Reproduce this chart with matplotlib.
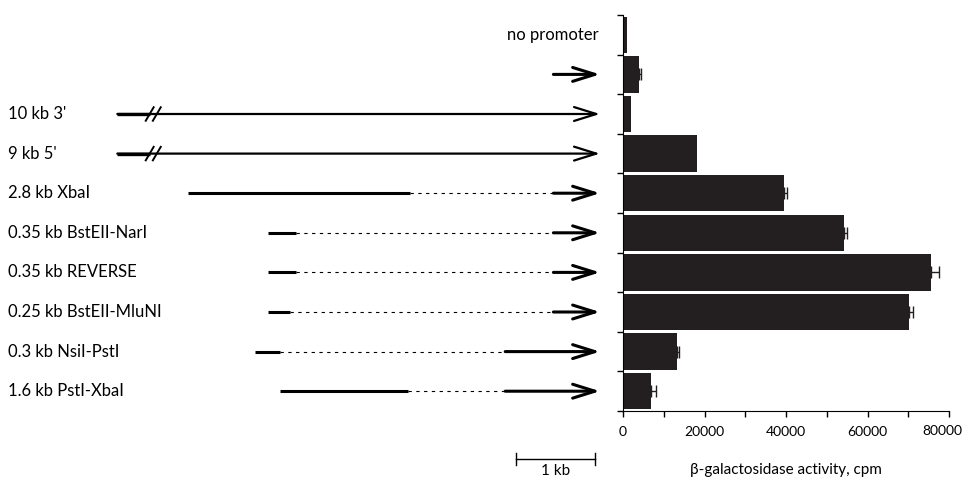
import numpy as np
import matplotlib.pyplot as plt
from matplotlib.ticker import MultipleLocator

plt.rcParams['font.family'] = ['Lato', 'DejaVu Sans']

# constructs, top to bottom
labels = ['no promoter', '', "10 kb 3'", "9 kb 5'", '2.8 kb XbaI',
          '0.35 kb BstEII-NarI', '0.35 kb REVERSE', '0.25 kb BstEII-MluNI',
          '0.3 kb NsiI-PstI', '1.6 kb PstI-XbaI']
activity = [1100, 3900, 2000, 18200, 39600, 54200, 75600, 70300, 13300, 6900]
activity_err = [0, 400, 0, 0, 750, 700, 1900, 800, 400, 1200]
xticks = [0, 20000, 40000, 60000, 80000]

# construct maps in kb, reporter start (arrow tip) at 0
nan = np.nan
solid_start = [nan, nan, nan, nan, -5.21, -4.20, -4.20, -4.20, -4.37, -4.05]
solid_end = [nan, nan, nan, nan, -2.41, -3.85, -3.85, -3.92, -4.05, -2.43]
stem_start = [nan, -0.59, -6.11, -6.11, -0.59, -0.59, -0.59, -0.59, -1.20, -1.20]
has_break = [False, False, True, True, False, False, False, False, False, False]
break_pos = -5.70

W, H = 964, 480
fig = plt.figure(figsize=(W / 100, H / 100), dpi=100)

# bar panel geometry (pixels)
bx0, bx1, by0, by1 = 623, 949, 15, 411
band = (by1 - by0) / len(labels)
ax = fig.add_axes([bx0 / W, 1 - by1 / H, (bx1 - bx0) / W, (by1 - by0) / H])

y = np.arange(len(labels))
ax.barh(y, activity, height=0.92, color='#231f20', zorder=2)
e = np.array(activity_err)
m = e > 0
ax.errorbar(np.array(activity)[m], y[m], xerr=[np.zeros(m.sum()), e[m]],
            fmt='none', ecolor='#231f20', elinewidth=1, capsize=4,
            capthick=1, zorder=3)
ax.set_xlim(0, 80000)
ax.set_ylim(len(labels) - 0.5, -0.5)
ax.set_yticks(np.arange(len(labels) + 1) - 0.5)
ax.set_yticklabels([])
ax.set_xticks(xticks, [str(t) for t in xticks[:-1]] + [''])
ax.xaxis.set_minor_locator(MultipleLocator(10000))
ax.tick_params(axis='both', which='both', direction='out', length=4, width=1)
ax.tick_params(axis='x', labelsize=10, pad=7)
# last label nudged left so it stays on the page
ax.annotate(str(xticks[-1]), xy=(xticks[-1], 0), xycoords=('data', 'axes fraction'),
            xytext=(-4.5, -10), textcoords='offset points', ha='center', va='top',
            fontsize=10)
for s in ['top', 'right']:
    ax.spines[s].set_visible(False)
ax.set_xlabel('\u03b2-galactosidase activity, cpm', fontsize=11, labelpad=18)

# left panel: construct diagrams
px_per_kb = 79
tip_px = 600
lx1 = 615
axl = fig.add_axes([0, 0, lx1 / W, 1])
axl.set_xlim(-tip_px / px_per_kb, (lx1 - tip_px) / px_per_kb)
ytop = -0.5 - by0 / band
ybot = len(labels) - 0.5 + (H - by1) / band
axl.set_ylim(ybot, ytop)
axl.axis('off')

head = '->,head_length=0.8,head_width=0.25'
label_x = (8 - tip_px) / px_per_kb
for i, lab in enumerate(labels):
    if i == 0:
        axl.text(-0.02, i, lab, ha='right', va='center', fontsize=12)
        continue
    axl.text(label_x, i, lab, ha='left', va='center', fontsize=12)
    if not np.isnan(solid_start[i]):
        axl.plot([solid_start[i], solid_end[i]], [i, i], color='k', lw=2.2,
                 solid_capstyle='butt')
        axl.plot([solid_end[i], stem_start[i]], [i, i], color='k', lw=0.8,
                 ls=(0, (3, 4)))
    lw = 1.6 if has_break[i] else 2.2
    axl.annotate('', xy=(0, i), xytext=(stem_start[i], i),
                 arrowprops=dict(arrowstyle=head, lw=lw, color='k',
                                 shrinkA=0, shrinkB=0, mutation_scale=20))
    if has_break[i]:
        axl.plot([stem_start[i], break_pos], [i, i], color='k', lw=2.4,
                 solid_capstyle='butt')
        for dx in (0, 0.09):
            axl.plot([break_pos - 0.05 + dx, break_pos + 0.05 + dx],
                     [i + 0.17, i - 0.17], color='k', lw=1.4)

# scale bar
sb_y = (459 - by0) / band - 0.5
sb0, sb1 = (516 - tip_px) / px_per_kb, (595 - tip_px) / px_per_kb
axl.plot([sb0, sb1], [sb_y, sb_y], color='k', lw=1)
for sx in (sb0, sb1):
    axl.plot([sx, sx], [sb_y - 0.16, sb_y + 0.16], color='k', lw=1)
axl.annotate('1 kb', xy=((sb0 + sb1) / 2, 0), xycoords=('data', 'figure pixels'),
             xytext=(0, 2), textcoords='offset pixels', ha='center', va='bottom',
             fontsize=11)

fig.savefig('out.png', dpi=100)
